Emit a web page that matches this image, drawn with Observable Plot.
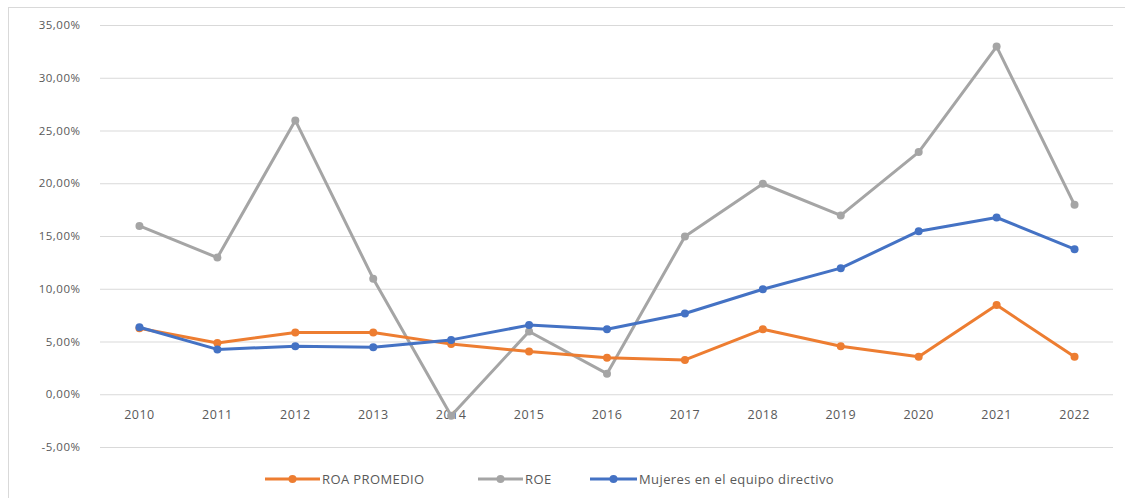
<!DOCTYPE html>
<html>
<head>
<meta charset="utf-8">
<script src="https://cdn.jsdelivr.net/npm/d3@7"></script>
<script src="https://cdn.jsdelivr.net/npm/@observablehq/plot@0.6"></script>
<style>
  html, body { margin: 0; padding: 0; background: #fff; }
  #wrap { position: relative; width: 1125px; height: 498px; overflow: hidden; font-family: "Open Sans", sans-serif; }
  #frame { position: absolute; left: 8px; top: 7px; width: 1130px; height: 500px; border-left: 1px solid #d9d9d9; border-top: 1px solid #d9d9d9; box-sizing: border-box; }
  #chart { position: absolute; left: 0; top: 0; }
  #legend { position: absolute; top: 469px; left: 0; width: 1125px; height: 20px; }
  .item { position: absolute; top: 0; display: flex; align-items: center; color: #595959; font-size: 13px; letter-spacing: 0.4px; }
  .item svg { display: block; }
</style>
</head>
<body>
<div id="wrap">
  <div id="frame"></div>
  <div id="chart"></div>
  <div id="legend"></div>
</div>
<script>
const years = ["2010","2011","2012","2013","2014","2015","2016","2017","2018","2019","2020","2021","2022"];
const roa = [6.3, 4.9, 5.9, 5.9, 4.8, 4.1, 3.5, 3.3, 6.2, 4.6, 3.6, 8.5, 3.6];
const roe = [16, 13, 26, 11, -2, 6, 2, 15, 20, 17, 23, 33, 18];
const mujeres = [6.4, 4.3, 4.6, 4.5, 5.2, 6.6, 6.2, 7.7, 10.0, 12.0, 15.5, 16.8, 13.8];
const yTicks = [-5, 0, 5, 10, 15, 20, 25, 30, 35];
const seriesNames = ["ROA PROMEDIO", "ROE", "Mujeres en el equipo directivo"];
const seriesColors = ["#ED7D31", "#A5A5A5", "#4472C4"];

const fmt = v => v.toFixed(2).replace(".", ",") + "%";

const data = [];
[roa, roe, mujeres].forEach((arr, s) => {
  arr.forEach((v, i) => data.push({ year: years[i], value: v, series: seriesNames[s] }));
});
// draw order: ROE first (behind), then ROA, then Mujeres on top
const order = ["ROE", "ROA PROMEDIO", "Mujeres en el equipo directivo"];

const marks = [
  Plot.ruleY(yTicks, { stroke: "#d9d9d9", strokeWidth: 1 }),
  Plot.axisY(yTicks, { tickSize: 0, tickPadding: 20, tickFormat: fmt, fontSize: 11.5, fill: "#595959", label: null }),
  Plot.text(years, { x: d => d, y: 0, dy: 20, text: d => d, fontSize: 12.5, fill: "#595959" })
];
order.forEach(name => {
  const col = seriesColors[seriesNames.indexOf(name)];
  const rows = data.filter(d => d.series === name);
  marks.push(Plot.line(rows, { x: "year", y: "value", stroke: col, strokeWidth: 3, strokeLinejoin: "round" }));
  marks.push(Plot.dot(rows, { x: "year", y: "value", fill: col, r: 4 }));
});

const chart = Plot.plot({
  width: 1125,
  height: 460,
  marginTop: 25,
  marginBottom: 13,
  marginLeft: 100,
  marginRight: 12,
  style: { fontFamily: "'Open Sans', sans-serif", background: "transparent", letterSpacing: "0.5px" },
  x: { type: "point", domain: years, padding: 0.5, round: false, axis: null },
  y: { domain: [-5, 35], axis: null },
  marks
});
document.getElementById("chart").appendChild(chart);

// legend
const legendPos = [265, 478, 590];
const lineLens = [55, 45, 47];
const legend = document.getElementById("legend");
seriesNames.forEach((name, i) => {
  const item = document.createElement("div");
  item.className = "item";
  item.style.left = legendPos[i] + "px";
  const w = lineLens[i];
  item.innerHTML = `<svg width="${w}" height="20"><line x1="0" x2="${w}" y1="10" y2="10" stroke="${seriesColors[i]}" stroke-width="3"/><circle cx="${w/2}" cy="10" r="4" fill="${seriesColors[i]}"/></svg><span style="margin-left:2px">${name}</span>`;
  legend.appendChild(item);
});
</script>
</body>
</html>
